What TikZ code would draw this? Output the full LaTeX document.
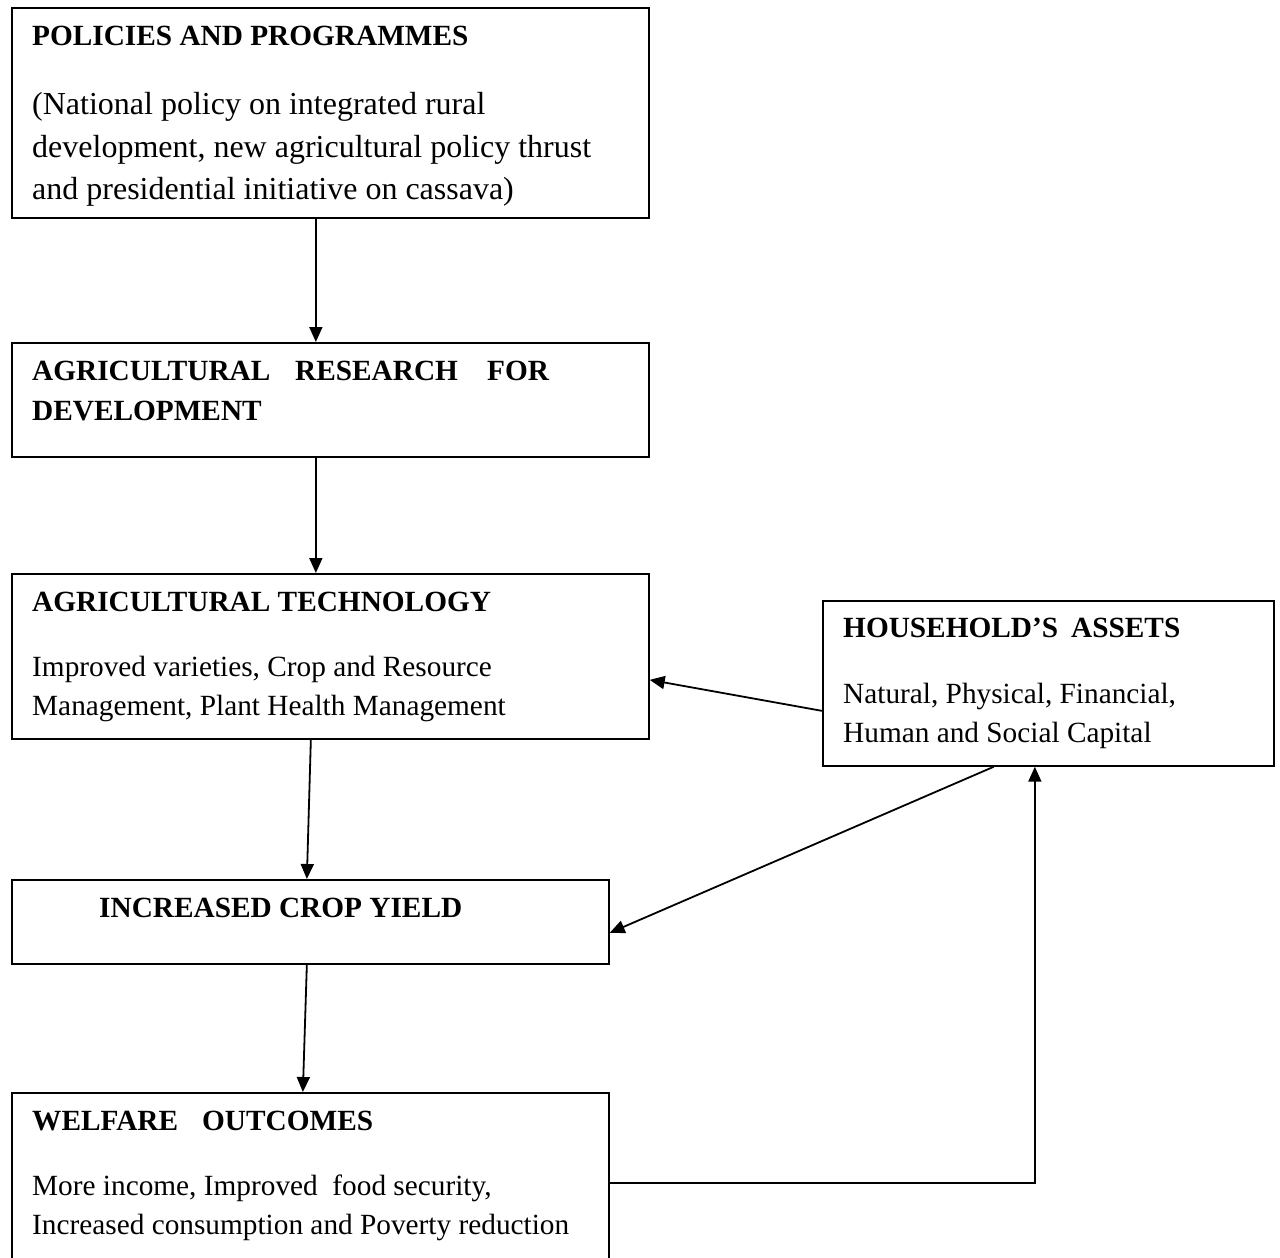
\documentclass[tikz,border=0pt]{standalone}
\usepackage{fontspec}
\setmainfont{Liberation Serif}
\usetikzlibrary{arrows.meta,calc}
\begin{document}
\begin{tikzpicture}[x=1pt,y=1pt,
  box/.style={draw=black,line width=1.7pt,rectangle,anchor=north west,inner sep=0pt},
  txt/.style={anchor=base west,inner sep=0pt,font=\fontsize{29.3}{34}\selectfont},
  bigtxt/.style={anchor=base west,inner sep=0pt,font=\fontsize{32}{38}\selectfont},
  ttl/.style={anchor=base west,inner sep=0pt,font=\fontsize{29.3}{34}\selectfont\bfseries},
  arr/.style={draw=black,line width=1.8pt,-{Triangle[length=15pt,width=13pt]}}]
\useasboundingbox (0,0) rectangle (1280,-1258);
\clip (0,0) rectangle (1280,-1258);
\fill[white] (0,0) rectangle (1280,-1258);
% boxes
\node[box,minimum width=637pt,minimum height=210pt] (pol) at (11,-7) {};
\node[box,minimum width=637pt,minimum height=114pt] (res) at (11,-342) {};
\node[box,minimum width=637pt,minimum height=165pt] (tech) at (11,-573) {};
\node[box,minimum width=451pt,minimum height=165pt] (hh) at (822,-600) {};
\node[box,minimum width=597pt,minimum height=84pt] (yld) at (11,-879) {};
\node[box,minimum width=597pt,minimum height=172pt] (welf) at (11,-1092) {};
% texts
\node[ttl] (polt) at (32,-45) {POLICIES AND PROGRAMMES};
\node[bigtxt] (pol1) at (32,-114) {(National policy on integrated rural};
\node[bigtxt] (pol2) at (32,-157) {development, new agricultural policy thrust};
\node[bigtxt] (pol3) at (32,-199) {and presidential initiative on cassava)};
\node[ttl] (rest1) at (32,-380) {AGRICULTURAL};
\node[ttl] (rest2) at (295,-380) {RESEARCH};
\node[ttl] (rest3) at (487,-380) {FOR};
\node[ttl] (rest4) at (32,-420) {DEVELOPMENT};
\node[ttl] (techt) at (32,-611) {AGRICULTURAL TECHNOLOGY};
\node[txt] (tech1) at (32,-676) {Improved varieties, Crop and Resource};
\node[txt] (tech2) at (32,-715) {Management, Plant Health Management};
\node[ttl] (hht1) at (843,-637) {HOUSEHOLD’S};
\node[ttl] (hht2) at (1071,-637) {ASSETS};
\node[txt] (hh1) at (843,-703) {Natural, Physical, Financial,};
\node[txt] (hh2) at (843,-742) {Human and Social Capital};
\node[ttl] (yldt) at (99,-917) {INCREASED CROP YIELD};
\node[ttl] (welft1) at (32,-1130) {WELFARE};
\node[ttl] (welft2) at (202,-1130) {OUTCOMES};
\node[txt] (welf1) at (32,-1195) {More income, Improved\ \ food security,};
\node[txt] (welf2) at (32,-1234) {Increased consumption and Poverty reduction};
% connectors
\draw[arr] ([xshift=-14.5pt]pol.south) -- ([xshift=-14.5pt]res.north);
\draw[arr] ([xshift=-14.5pt]res.south) -- ([xshift=-14.5pt]tech.north);
\draw[arr] ([xshift=-19.5pt]tech.south) -- ([xshift=-3.5pt]yld.north);
\draw[arr] ([xshift=-3.5pt]yld.south) -- ([xshift=-7.5pt]welf.north);
\draw[arr] ([yshift=-27.5pt]hh.west) -- ([yshift=-23.5pt]tech.east);
\draw[arr] ([xshift=-54.5pt]hh.south) -- ([yshift=-11pt]yld.east);
\coordinate (wout) at ([yshift=-4pt]welf.east);
\coordinate (hin) at ([xshift=-13.5pt]hh.south);
\draw[arr] (wout) -| (hin);
\end{tikzpicture}
\end{document}
